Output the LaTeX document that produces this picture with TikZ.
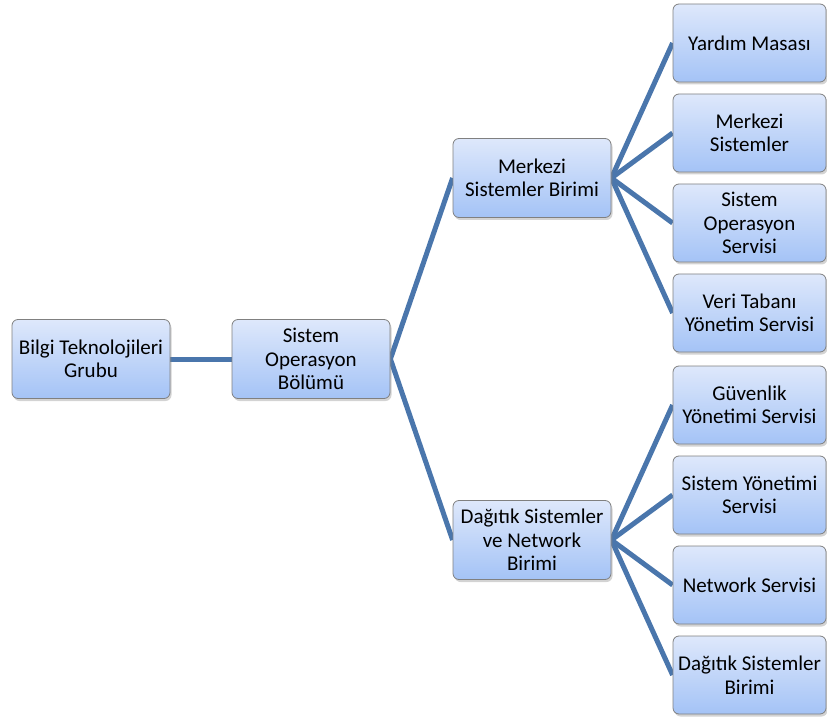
\documentclass[tikz,border=0pt]{standalone}
\usepackage{fontspec}
\setmainfont{Carlito}
\usetikzlibrary{shadows,backgrounds}
\definecolor{linkblue}{RGB}{74,118,172}
\definecolor{boxtop}{RGB}{222,232,251}
\definecolor{boxbottom}{RGB}{164,195,246}
\definecolor{boxedge}{RGB}{128,128,128}
\tikzset{
  orgbox/.style={draw=boxedge, line width=0.8pt, rounded corners=6pt,
    top color=boxtop, bottom color=boxbottom, inner sep=0pt,
    align=center, font=\fontsize{21}{23.5}\selectfont,
    drop shadow={opacity=0.35, shadow xshift=1.5pt, shadow yshift=-2.5pt}},
  midbox/.style={orgbox, minimum width=158pt, minimum height=79pt},
  leafbox/.style={orgbox, minimum width=153pt, minimum height=78pt},
  link/.style={draw=linkblue, line width=5pt, line cap=butt}
}
\begin{document}
\begin{tikzpicture}[x=1pt,y=-1pt]
\useasboundingbox (0,0) rectangle (827,719);
% hierarchy boxes
\node[midbox] (bilgi) at (91,359) {Bilgi Teknolojileri\\Grubu};
\node[midbox] (bolum) at (311,359) {Sistem\\Operasyon\\Bölümü};
\node[midbox] (merkezi) at (532,178) {Merkezi\\Sistemler Birimi};
\node[midbox] (dagitik) at (532,540) {Dağıtık Sistemler\\ve Network\\Birimi};
\node[leafbox] (l1) at (749.5,43) {Yardım Masası};
\node[leafbox] (l2) at (749.5,133) {Merkezi\\Sistemler};
\node[leafbox] (l3) at (749.5,223) {Sistem\\Operasyon\\Servisi};
\node[leafbox] (l4) at (749.5,313) {Veri Tabanı\\Yönetim Servisi};
\node[leafbox] (l5) at (749.5,405) {Güvenlik\\Yönetimi Servisi};
\node[leafbox] (l6) at (749.5,495) {Sistem Yönetimi\\Servisi};
\node[leafbox] (l7) at (749.5,585) {Network Servisi};
\node[leafbox] (l8) at (749.5,675) {Dağıtık Sistemler\\Birimi};
% connectors, kept behind the boxes
\begin{scope}[on background layer]
\draw[link] (bilgi.east) -- (bolum.west);
\draw[link, line join=miter] (merkezi.west) -- (bolum.east) -- (dagitik.west);
\foreach \leaf in {l1,l2,l3,l4}
  \draw[link] (merkezi.east) -- (\leaf.west);
\foreach \leaf in {l5,l6,l7,l8}
  \draw[link] (dagitik.east) -- (\leaf.west);
\end{scope}
\end{tikzpicture}
\end{document}
